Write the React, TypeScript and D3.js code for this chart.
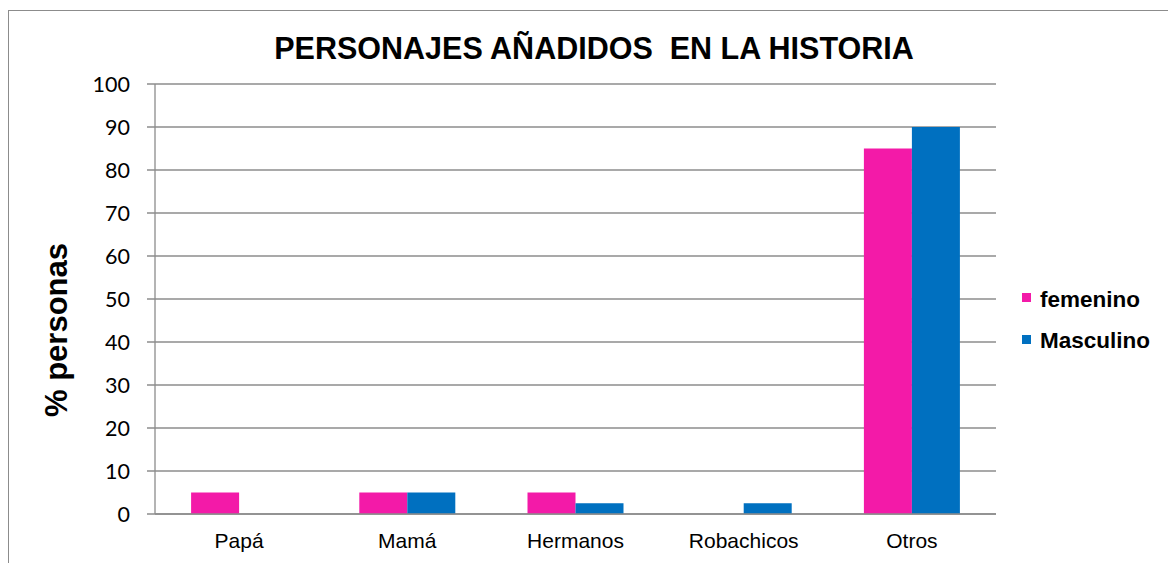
import React from "react";
import * as d3 from "d3";

const categories = ["Papá", "Mamá", "Hermanos", "Robachicos", "Otros"];
const seriesNames = ["femenino", "Masculino"];
const femenino = [5, 5, 5, 0, 85];
const masculino = [0, 5, 2.5, 2.5, 90];
const yTicks = [0, 10, 20, 30, 40, 50, 60, 70, 80, 90, 100];
const colors = ["#F31AA8", "#0070C0"];

export default function App() {
  const W = 1168, H = 563;
  const left = 155, right = 996, top = 84, bottom = 514;
  const x = d3.scaleBand<string>().domain(categories).range([left, right]).paddingInner(0).paddingOuter(0);
  const y = d3.scaleLinear().domain([0, 100]).range([bottom, top]);
  const barW = 48;
  const series = [femenino, masculino];
  const grid = "#8c8c8c";
  return (
    <svg width={W} height={H} style={{ position: "absolute", left: 0, top: 0 }}>
      <rect x={0} y={0} width={W} height={H} fill="#fff" />
      <rect x={8.5} y={10.5} width={W + 20} height={H + 20} fill="none" stroke={grid} strokeWidth={1} />
      <text x={594} y={59} textAnchor="middle" fontFamily="Liberation Sans, Arial, sans-serif" fontWeight="bold" fontSize={30.5} style={{ whiteSpace: "pre" }}>
        {"PERSONAJES AÑADIDOS  EN LA HISTORIA"}
      </text>
      {yTicks.map((t) => (
        <g key={t}>
          <line x1={147} x2={right} y1={y(t)} y2={y(t)} stroke={grid} strokeWidth={1.3} />
          <text x={130} y={y(t) + 8} textAnchor="end" fontFamily="Lato, Open Sans, sans-serif" fontSize={21.5}>{t}</text>
        </g>
      ))}
      <line x1={left} x2={left} y1={top} y2={bottom} stroke={grid} strokeWidth={1.3} />
      {categories.map((c, i) => {
        const cx = (x(c) as number) + x.bandwidth() / 2;
        return (
          <g key={c}>
            {series.map((s, j) => (
              s[i] > 0 ? (
                <rect key={j} x={cx - barW + j * barW} y={y(s[i])} width={barW} height={bottom - y(s[i])} fill={colors[j]} />
              ) : null
            ))}
            <text x={cx} y={548} textAnchor="middle" fontFamily="Liberation Sans, Arial, sans-serif" fontSize={21}>{c}</text>
          </g>
        );
      })}
      <line x1={left} x2={right} y1={bottom} y2={bottom} stroke={grid} strokeWidth={1.5} />
      <text transform="translate(67,330) rotate(-90)" textAnchor="middle" fontFamily="Liberation Sans, Arial, sans-serif" fontWeight="bold" fontSize={31}>% personas</text>
      {seriesNames.map((n, j) => (
        <g key={n}>
          <rect x={1022} y={293 + j * 42} width={9} height={9} fill={colors[j]} />
          <text x={1040} y={306.5 + j * 41} fontFamily="Liberation Sans, Arial, sans-serif" fontWeight="bold" fontSize={22.5}>{n}</text>
        </g>
      ))}
    </svg>
  );
}
